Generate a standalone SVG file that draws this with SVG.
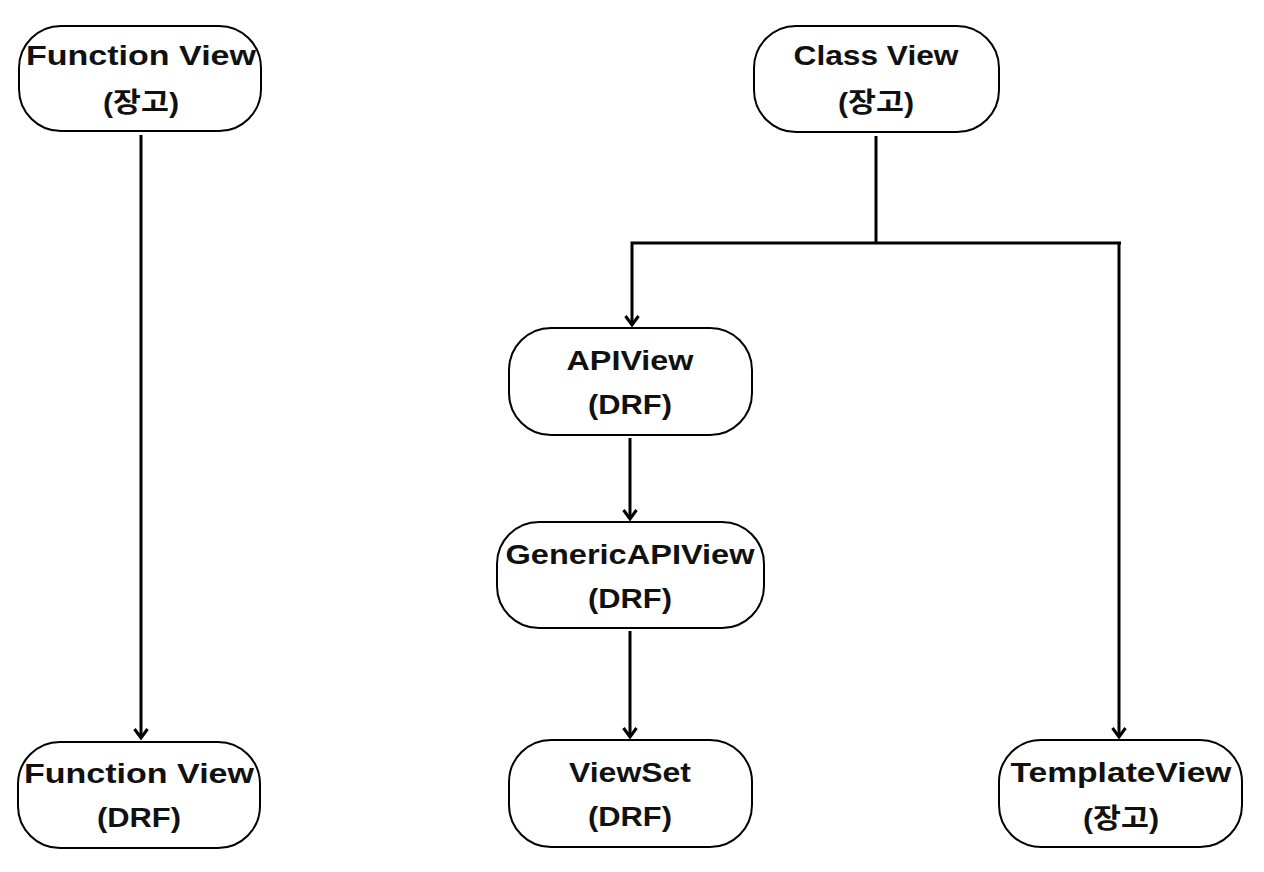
<svg xmlns="http://www.w3.org/2000/svg" width="1264" height="872" viewBox="0 0 1264 872">
<defs>
<style>
.box{fill:#fff;stroke:#000;stroke-width:2}
.t{font-family:"Liberation Sans","Noto Sans CJK KR",sans-serif;font-weight:bold;font-size:27px;fill:#111;text-anchor:middle}
.c{fill:none;stroke:#000;stroke-width:3}
</style>
<marker id="ah" markerWidth="16" markerHeight="16" viewBox="0 0 16 16" refX="13" refY="8" orient="auto" markerUnits="userSpaceOnUse">
<path d="M4,1.5 L13,8 L4,14.5" fill="none" stroke="#000" stroke-width="3" stroke-linejoin="miter"/>
</marker>
</defs>
<rect width="1264" height="872" fill="#fff"/>
<g id="connectors">
<path class="c" d="M141,135 V738" marker-end="url(#ah)"/>
<path class="c" d="M876,136 V243"/>
<path class="c" d="M1121,243 H632 V325" marker-end="url(#ah)"/>
<path class="c" d="M1119,243 V737" marker-end="url(#ah)"/>
<path class="c" d="M630,438 V519" marker-end="url(#ah)"/>
<path class="c" d="M630,631 V737" marker-end="url(#ah)"/>
</g>
<g id="n-func-django">
<rect class="box" x="19" y="26" width="242" height="105" rx="42"/>
<text class="t" x="141" y="65" textLength="230" lengthAdjust="spacingAndGlyphs">Function View</text>
<text class="t" x="141" y="112" textLength="76" lengthAdjust="spacingAndGlyphs">(장고)</text>
</g>
<g id="n-class-django">
<rect class="box" x="754" y="26" width="245" height="106" rx="42"/>
<text class="t" x="876" y="65" textLength="165" lengthAdjust="spacingAndGlyphs">Class View</text>
<text class="t" x="876" y="112" textLength="76" lengthAdjust="spacingAndGlyphs">(장고)</text>
</g>
<g id="n-apiview">
<rect class="box" x="509" y="328" width="243" height="107" rx="42"/>
<text class="t" x="630" y="370" textLength="127" lengthAdjust="spacingAndGlyphs">APIView</text>
<text class="t" x="630" y="414" textLength="84" lengthAdjust="spacingAndGlyphs">(DRF)</text>
</g>
<g id="n-generic">
<rect class="box" x="497" y="522" width="267" height="106" rx="42"/>
<text class="t" x="630" y="564" textLength="249" lengthAdjust="spacingAndGlyphs">GenericAPIView</text>
<text class="t" x="630" y="608" textLength="84" lengthAdjust="spacingAndGlyphs">(DRF)</text>
</g>
<g id="n-viewset">
<rect class="box" x="509" y="740" width="243" height="107" rx="42"/>
<text class="t" x="630" y="782" textLength="122" lengthAdjust="spacingAndGlyphs">ViewSet</text>
<text class="t" x="630" y="826" textLength="84" lengthAdjust="spacingAndGlyphs">(DRF)</text>
</g>
<g id="n-func-drf">
<rect class="box" x="18" y="742" width="242" height="106" rx="42"/>
<text class="t" x="139" y="783" textLength="230" lengthAdjust="spacingAndGlyphs">Function View</text>
<text class="t" x="139" y="827" textLength="84" lengthAdjust="spacingAndGlyphs">(DRF)</text>
</g>
<g id="n-template">
<rect class="box" x="999" y="740" width="243" height="107" rx="42"/>
<text class="t" x="1121" y="782" textLength="221" lengthAdjust="spacingAndGlyphs">TemplateView</text>
<text class="t" x="1121" y="828" textLength="76" lengthAdjust="spacingAndGlyphs">(장고)</text>
</g>
</svg>
